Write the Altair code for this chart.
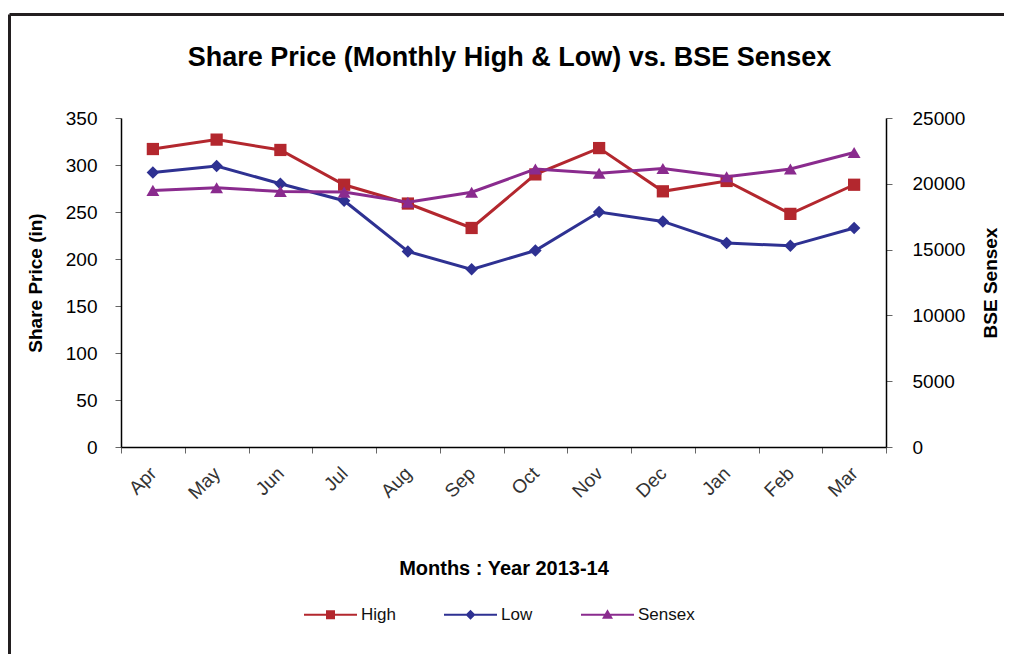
import altair as alt
import pandas as pd

months = ["Apr", "May", "Jun", "Jul", "Aug", "Sep", "Oct", "Nov", "Dec", "Jan", "Feb", "Mar"]
high = [317, 327, 316, 279, 259, 233, 290, 318, 272, 283, 248, 279]
low = [292, 299, 280, 262, 208, 189, 209, 250, 240, 217, 214, 233]
sensex = [19500, 19700, 19420, 19370, 18600, 19360, 21120, 20800, 21160, 20540, 21120, 22380]

series_names = ["High", "Low", "Sensex"]
series_colors = ["#B3272E", "#2E3192", "#8A2B8E"]
series_shapes = ["square", "diamond", "triangle-up"]
legend_shapes = [
    "M-5.3,-0.2H5.3V0.2H-5.3Z M-0.9,-0.9H0.9V0.9H-0.9Z",
    "M-5.3,-0.2H5.3V0.2H-5.3Z M0,-1.0L1.0,0L0,1.0L-1.0,0Z",
    "M-5.3,-0.2H5.3V0.2H-5.3Z M0,-1.1L1.1,0.8H-1.1Z",
]
price_ticks = [0, 50, 100, 150, 200, 250, 300, 350]
sensex_ticks = [0, 5000, 10000, 15000, 20000, 25000]

price_df = pd.DataFrame({
    "Month": months * 2,
    "Series": ["High"] * len(months) + ["Low"] * len(months),
    "Value": high + low,
})
sensex_df = pd.DataFrame({
    "Month": months,
    "Series": ["Sensex"] * len(months),
    "Value": sensex,
})
legend_df = pd.DataFrame({"Series": series_names})

FONT = "Liberation Sans"

color_scale = alt.Scale(domain=series_names, range=series_colors)
shape_scale = alt.Scale(domain=series_names, range=series_shapes)
size_scale = alt.Scale(domain=series_names, range=[150, 165, 175])

x_enc = alt.X(
    "Month:N",
    sort=months,
    scale=alt.Scale(type="band", paddingInner=0, paddingOuter=0),
    axis=alt.Axis(
        title="Months : Year 2013-14",
        labelAngle=-45,
        labelAlign="right",
        labelBaseline="middle",
        labelPadding=17,
        labelOverlap=False,
        labelColor="#333333",
        tickBand="extent",
        tickSize=6,
        titleY=121,
        titleBaseline="middle",
        titleFontSize=20,
    ),
)

price_y = alt.Y(
    "Value:Q",
    scale=alt.Scale(domain=[0, 350], nice=False),
    axis=alt.Axis(
        title="Share Price (in)",
        orient="left",
        values=price_ticks,
        tickSize=6,
        labelPadding=18,
        titleX=-86,
        titleY=164.5,
        titleAngle=270,
        titleAlign="center",
        titleBaseline="middle",
    ),
)

sensex_y = alt.Y(
    "Value:Q",
    scale=alt.Scale(domain=[0, 25000], nice=False),
    axis=alt.Axis(
        title="BSE Sensex",
        orient="right",
        values=sensex_ticks,
        format="d",
        tickSize=6,
        labelPadding=20,
        titleX=104,
        titleY=164.5,
        titleAngle=270,
        titleAlign="center",
        titleBaseline="middle",
    ),
)

price_base = alt.Chart(price_df).encode(
    x=x_enc, y=price_y,
    color=alt.Color("Series:N", scale=color_scale, legend=None),
)
price_layer = alt.layer(
    price_base.mark_line(strokeWidth=3),
    price_base.mark_point(filled=True, opacity=1).encode(
        shape=alt.Shape("Series:N", scale=shape_scale, legend=None),
        size=alt.Size("Series:N", scale=size_scale, legend=None),
    ),
)

sensex_base = alt.Chart(sensex_df).encode(
    x=x_enc, y=sensex_y,
    color=alt.Color("Series:N", scale=color_scale, legend=None),
)
sensex_layer = alt.layer(
    sensex_base.mark_line(strokeWidth=3),
    sensex_base.mark_point(filled=True, opacity=1).encode(
        shape=alt.Shape("Series:N", scale=shape_scale, legend=None),
        size=alt.Size("Series:N", scale=size_scale, legend=None),
    ),
)

legend_spec = alt.Legend(
    title=None,
    orient="none",
    legendX=201,
    legendY=488,
    direction="horizontal",
    labelFont=FONT,
    labelFontSize=17,
    labelColor="#111111",
    symbolSize=100,
    labelOffset=22,
    columnPadding=48,
    padding=0,
    symbolStrokeWidth=0,
    symbolOpacity=1,
)
legend_layer = (
    alt.Chart(legend_df)
    .transform_filter("false")
    .mark_point(filled=True, size=100)
    .encode(
        color=alt.Color("Series:N", scale=alt.Scale(domain=series_names, range=series_colors), legend=legend_spec),
        shape=alt.Shape("Series:N", scale=alt.Scale(domain=series_names, range=legend_shapes), legend=legend_spec),
    )
)

frame_df = pd.DataFrame({"k": [0]})
border_top = alt.Chart(frame_df).mark_rule(color="#231F20", strokeWidth=3).encode(
    x=alt.value(-111.5), x2=alt.value(883), y=alt.value(-103.5)
)
border_left = alt.Chart(frame_df).mark_rule(color="#231F20", strokeWidth=3).encode(
    x=alt.value(-111.5), y=alt.value(-103.5), y2=alt.value(536)
)

chart = (
    alt.layer(price_layer, sensex_layer, legend_layer, border_top, border_left)
    .resolve_scale(y="independent", color="independent", shape="independent", size="independent")
    .properties(
        width=765,
        height=329,
        autosize=alt.AutoSizeParams(type="none"),
        padding={"left": 113, "top": 110, "right": 118, "bottom": 207},
        title=alt.Title(
            "Share Price (Monthly High & Low) vs. BSE Sensex",
            font=FONT,
            fontSize=27,
            fontWeight="bold",
            color="#000000",
            anchor="middle",
            frame="group",
            offset=-59,
            dx=6,
        ),
    )
    .configure_axis(
        grid=False,
        domainColor="#000000",
        domainWidth=1.5,
        tickColor="#666666",
        tickWidth=1,
        labelFont=FONT,
        labelFontSize=19,
        labelColor="#000000",
        titleFont=FONT,
        titleFontSize=19,
        titleFontWeight="bold",
        titleColor="#000000",
    )
    .configure_view(stroke=None)
)

chart.save("out.html", embed_options={"renderer": "svg", "actions": False})
